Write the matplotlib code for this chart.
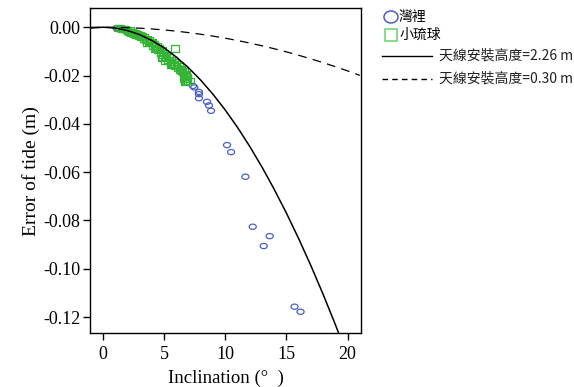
import matplotlib
matplotlib.use("Agg")
import matplotlib.pyplot as plt
from matplotlib.lines import Line2D
from matplotlib.patches import Ellipse, Rectangle
from matplotlib.path import Path
from matplotlib.transforms import Affine2D

plt.rcParams["axes.unicode_minus"] = False

# observed points: inclination (deg), tide error (m)
WANLI_X = [1.1, 1.3, 1.6, 2.2, 2.6, 3.2, 3.8, 4.4, 4.8, 5.2, 5.6, 6.3, 6.9,
           7.35, 7.46, 7.84, 7.84, 7.84, 8.5, 8.66, 8.83,
           10.14, 10.47, 11.64, 12.24, 13.63, 13.14, 15.66, 16.15]
WANLI_Y = [-0.0004, -0.0008, -0.0010, -0.0025, -0.0030, -0.0042, -0.0060, -0.0090,
           -0.0130, -0.0120, -0.0160, -0.0185, -0.0230,
           -0.0243, -0.0249, -0.0268, -0.0277, -0.0294, -0.0309, -0.0324, -0.0346,
           -0.0488, -0.0517, -0.0619, -0.0826, -0.0865, -0.0906, -0.1157, -0.1178]

LIUQIU_X = [1.2, 1.4, 1.5, 1.7, 1.8, 1.9, 2.0, 2.1, 2.2, 2.3, 2.4, 2.5, 2.6, 2.7,
            2.8, 2.9, 3.0, 3.1, 3.2, 3.3, 3.4, 3.5, 3.6, 3.7, 3.8, 3.9, 4.0, 4.1,
            4.2, 4.3, 4.4, 4.5, 4.6, 4.7, 4.8, 4.9, 5.0, 5.1, 5.2, 5.3, 5.4, 5.5,
            5.6, 5.7, 5.8, 5.9, 5.9, 6.0, 6.1, 6.2, 6.3, 6.4, 6.5, 6.6, 6.7, 6.8,
            6.8, 6.9, 6.6, 5.5, 4.8, 4.2, 3.6, 5.08, 5.76, 6.45, 6.72, 6.58, 6.86,
            6.72, 7.13]
LIUQIU_Y = [-0.0004, -0.0005, -0.0007, -0.0009, -0.0008, -0.0012, -0.0015, -0.0018,
            -0.0013, -0.0022, -0.0019, -0.0026, -0.0023, -0.0031, -0.0027, -0.0037,
            -0.0032, -0.0042, -0.0037, -0.0047, -0.0042, -0.0054, -0.0048, -0.0060,
            -0.0055, -0.0067, -0.0061, -0.0076, -0.0069, -0.0085, -0.0077, -0.0096,
            -0.0086, -0.0106, -0.0096, -0.0116, -0.0106, -0.0124, -0.0114, -0.0134,
            -0.0124, -0.0144, -0.0134, -0.0152, -0.0144, -0.0088, -0.0160, -0.0152,
            -0.0168, -0.0162, -0.0178, -0.0172, -0.0186, -0.0182, -0.0198, -0.0194,
            -0.0224, -0.0208, -0.0214, -0.0156, -0.0126, -0.0092, -0.0066, -0.0140,
            -0.0156, -0.0182, -0.0196, -0.0202, -0.0216, -0.0228, -0.0221]

# model curves
CURVE_X = [-1, 0, 1, 2, 3, 4, 5, 6, 7, 8, 9, 10, 11, 12, 13, 14, 15, 16, 17, 18,
           19, 20, 21]
H226_Y = [-0.00034, 0.0, -0.00034, -0.00138, -0.00310, -0.00551, -0.00860, -0.01238,
          -0.01685, -0.02199, -0.02783, -0.03433, -0.04152, -0.04939, -0.05792,
          -0.06713, -0.07701, -0.08755, -0.09875, -0.11061, -0.12313, -0.13629,
          -0.15000]
H030_Y = [-0.00005, 0.0, -0.00005, -0.00018, -0.00041, -0.00073, -0.00114, -0.00164,
          -0.00224, -0.00292, -0.00369, -0.00456, -0.00551, -0.00656, -0.00769,
          -0.00891, -0.01022, -0.01162, -0.01311, -0.01468, -0.01634, -0.01809,
          -0.01993]

Y_TICKS = [0.0, -0.02, -0.04, -0.06, -0.08, -0.10, -0.12]
X_TICKS = [0, 5, 10, 15, 20]

BLUE = "#4a5ec4"
GREEN = "#35b535"
CJK = ["Noto Sans CJK TC", "DejaVu Sans"]
SERIF = "Liberation Serif"

# the source chart is stretched sideways, so markers are a bit wider than tall
oval = Path.unit_circle().transformed(Affine2D().scale(1.35, 1.0))
box = Path.unit_rectangle().transformed(Affine2D().translate(-0.5, -0.5).scale(1.25, 1.0))

fig = plt.figure(figsize=(5.74, 3.87), dpi=100)
ax = fig.add_axes([0.1568, 0.1395, 0.4722, 0.8395])

ax.scatter(WANLI_X, WANLI_Y, s=26, marker=oval, facecolors="none",
           edgecolors=BLUE, linewidths=0.9, zorder=2)
ax.scatter(LIUQIU_X, LIUQIU_Y, s=30, marker=box, facecolors="none",
           edgecolors=GREEN, linewidths=0.9, zorder=3)
ax.plot(CURVE_X, H226_Y, color="black", lw=1.1, zorder=4)
ax.plot(CURVE_X, H030_Y, color="black", lw=0.9, ls=(0, (7, 5)), zorder=4)

ax.set_xlim(-1.07, 21.1)
ax.set_ylim(-0.1266, 0.0079)
ax.set_xticks(X_TICKS)
ax.set_yticks(Y_TICKS)
ax.set_yticklabels([f"{v:.2f}" for v in Y_TICKS])
ax.tick_params(direction="out", length=5, width=1, labelsize=13, pad=2)
ax.tick_params(axis="x", pad=4)
for lab in ax.get_xticklabels() + ax.get_yticklabels():
    lab.set_fontfamily(SERIF)
for sp in ax.spines.values():
    sp.set_linewidth(1)

ax.set_xlabel("Inclination (°  )", fontsize=13.5, family=SERIF, labelpad=5)
ax.set_ylabel("Error of tide (m)", fontsize=14, family=SERIF, labelpad=2)

# legend outside the axes, drawn by hand in pixel coordinates
W, H = 574, 387
def fx(px):
    return px / W
def fy(py):
    return 1 - py / H

fig.add_artist(Ellipse((fx(391), fy(17)), 14 / W, 12 / H, fill=False,
                       edgecolor=BLUE, lw=1.1, transform=fig.transFigure))
fig.add_artist(Rectangle((fx(384.5), fy(41)), 12 / W, 12 / H, fill=False,
                         edgecolor="#6ccf6c", lw=1.1, transform=fig.transFigure))
fig.add_artist(Line2D([fx(382), fx(432)], [fy(56), fy(56)], color="black", lw=1,
                      transform=fig.transFigure))
fig.add_artist(Line2D([fx(382), fx(432)], [fy(79), fy(79)], color="black", lw=1,
                      ls=(0, (4, 3)), transform=fig.transFigure))

fig.text(fx(399), fy(17), "灣裡", family=CJK, fontsize=10, va="center")
fig.text(fx(399), fy(35), "小琉球", family=CJK, fontsize=10, va="center")
fig.text(fx(439), fy(56), "天線安裝高度=2.26 m", family=CJK, fontsize=10,
         va="center", color="#222222")
fig.text(fx(439), fy(79), "天線安裝高度=0.30 m", family=CJK, fontsize=10,
         va="center", color="#222222")

fig.savefig("out.png", dpi=100)
